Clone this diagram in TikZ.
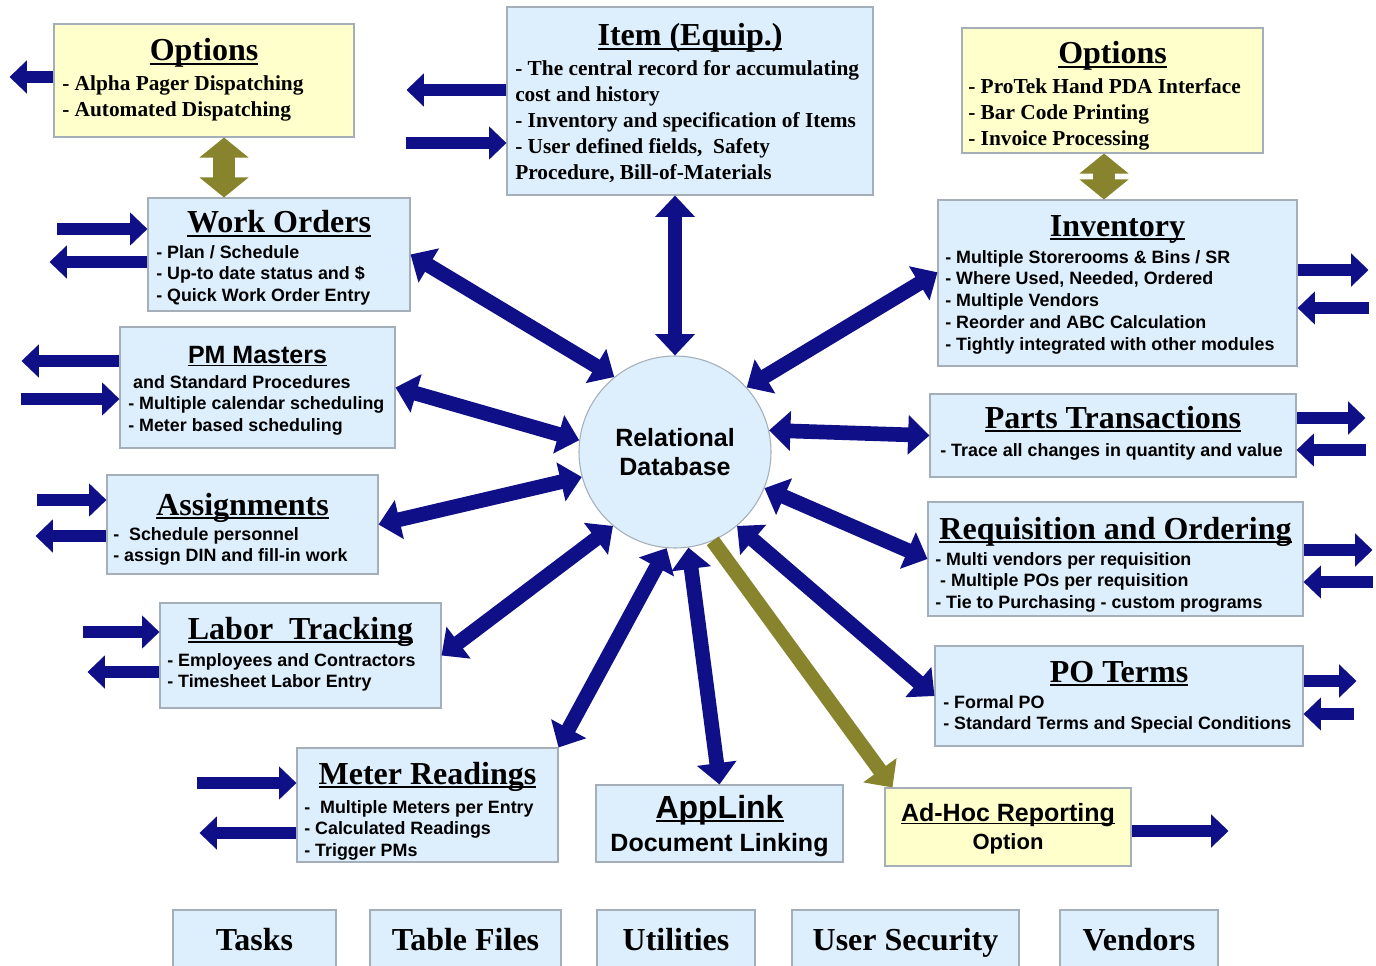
\documentclass[tikz,border=0pt]{standalone}
\usepackage{fontspec}
\setmainfont{Liberation Serif}
\setsansfont{Liberation Sans}
\usepackage{tikz}
\usetikzlibrary{arrows.meta,calc}

\definecolor{navyarr}{RGB}{15,15,135}
\definecolor{olivearr}{RGB}{135,132,45}
\definecolor{boxblue}{RGB}{221,239,252}
\definecolor{boxyel}{RGB}{255,255,204}
\definecolor{boxedge}{RGB}{165,175,185}

\newsavebox{\ulbox}
\newcommand{\ulin}[1]{\sbox\ulbox{#1}\rlap{\rule[-0.12em]{\wd\ulbox}{0.06em}}\usebox\ulbox}

\tikzset{
  modbox/.style={draw=boxedge, line width=0.8pt, fill=boxblue, inner sep=0pt},
  optbox/.style={modbox, fill=boxyel},
  sz/.style 2 args={minimum width=#1*0.75pt, minimum height=#2*0.75pt},
  lowbox/.style={modbox, minimum height=60pt, text height=12pt, text depth=12pt, font=\rmfamily\bfseries\fontsize{24}{28}\selectfont},
  ttl/.style={inner sep=0pt, anchor=base, font=\rmfamily\bfseries\fontsize{24}{28}\selectfont},
  sttl/.style={inner sep=0pt, anchor=base, font=\sffamily\bfseries\fontsize{18.75}{22}\selectfont},
  bdy/.style={inner sep=0pt, anchor=north west, align=left, font=\sffamily\bfseries\fontsize{13.4}{16.3}\selectfont},
  tbdy/.style={inner sep=0pt, anchor=north west, align=left, font=\rmfamily\bfseries\fontsize{16}{19.5}\selectfont},
  dbarr/.style={line width=11pt, navyarr, {Triangle[width=29pt,length=16pt]}-{Triangle[width=29pt,length=16pt]}},
  sidearr/.style={line width=9.5pt, navyarr, -{Triangle[width=24pt,length=13pt]}},
  olvbi/.style={line width=16pt, olivearr, {Triangle[width=36pt,length=15pt]}-{Triangle[width=36pt,length=15pt]}},
  olvarr/.style={line width=11pt, olivearr, -{Triangle[width=30pt,length=16pt]}},
}

\begin{document}
\begin{tikzpicture}[x=0.75pt,y=0.75pt,yscale=-1,xscale=1]
\useasboundingbox (0,0) rectangle (1376,966);
\fill[white] (0,0) rectangle (1376,966);
\clip (0,0) rectangle (1376,966);

%Shape: Circle [db]
\node[circle, draw=boxedge, line width=0.8pt, fill=boxblue, minimum size=192*0.75pt, inner sep=0pt, align=center, font=\sffamily\bfseries\fontsize{18.75}{21.75}\selectfont] (db) at (675,452) {Relational\\Database};

%Shape: Rectangles, left column
\node[optbox, sz={300}{113}] (optl) at (204,80.5) {};
\node[modbox, sz={262}{113}] (wo) at (279,254.5) {};
\node[modbox, sz={275}{121}] (pm) at (257.5,387.5) {};
\node[modbox, sz={271}{99}] (asg) at (242.5,524.5) {};
\node[modbox, sz={281}{105}] (lab) at (300.5,655.5) {};
\node[modbox, sz={261}{114}] (mtr) at (427.5,805) {};
%Shape: Rectangles, middle
\node[modbox, sz={366}{188}] (item) at (690,101) {};
\node[modbox, sz={247}{77}] (app) at (719.5,823.5) {};
\node[optbox, sz={246}{78}] (adh) at (1008,827) {};
%Shape: Rectangles, right column
\node[optbox, sz={301}{125}] (optr) at (1112.5,90.5) {};
\node[modbox, sz={359}{166}] (inv) at (1117.5,283) {};
\node[modbox, sz={366}{83}] (parts) at (1113,435.5) {};
\node[modbox, sz={375}{114}] (req) at (1115.5,559) {};
\node[modbox, sz={368}{100}] (po) at (1119,696) {};
%Shape: Rectangles, bottom row
\node[lowbox, sz={163}{80}] (tasks) at (254.5,950) {Tasks};
\node[lowbox, sz={191}{80}] (tblf) at (465.5,950) {Table Files};
\node[lowbox, sz={158}{80}] (utl) at (676,950) {Utilities};
\node[lowbox, sz={227}{80}] (usec) at (905.5,950) {User Security};
\node[lowbox, sz={158}{80}] (vnd) at (1139,950) {Vendors};

% Text Node
\node[ttl] (optl-t) at (optl.north |- 0,61) {\ulin{Options}};
\node[tbdy] (optl-b) at (62,75) {- Alpha Pager Dispatching\\- Automated Dispatching};
% Text Node
\node[ttl] (item-t) at (item.north |- 0,46) {\ulin{Item (Equip.)}};
\node[tbdy] (item-b) at (515,60) {- The central record for accumulating\\cost and history\\- Inventory and specification of Items\\- User defined fields,\ \ Safety\\Procedure, Bill-of-Materials};
% Text Node
\node[ttl] (optr-t) at (optr.north |- 0,64) {\ulin{Options}};
\node[tbdy] (optr-b) at (968,78) {- ProTek Hand PDA Interface\\- Bar Code Printing\\- Invoice Processing};
% Text Node
\node[ttl] (wo-t) at (wo.north |- 0,233) {\ulin{Work Orders}};
\node[bdy] (wo-b) at (156,245) {- Plan / Schedule\\- Up-to date status and \$\\- Quick Work Order Entry};
% Text Node
\node[ttl] (inv-t) at (inv.north |- 0,236) {\ulin{Inventory}};
\node[bdy] (inv-b) at (945,250) {- Multiple Storerooms \& Bins / SR\\- Where Used, Needed, Ordered\\- Multiple Vendors\\- Reorder and ABC Calculation\\- Tightly integrated with other modules};
% Text Node
\node[sttl] (pm-t) at (pm.north |- 0,363) {\ulin{PM Masters}};
\node[bdy] (pm-b) at (128,375) {\ and Standard Procedures\\- Multiple calendar scheduling\\- Meter based scheduling};
% Text Node
\node[ttl] (parts-t) at (parts.north |- 0,428) {\ulin{Parts Transactions}};
\node[bdy] (parts-b) at (940,443) {- Trace all changes in quantity and value};
% Text Node
\node[ttl] (asg-t) at (asg.north |- 0,515) {\ulin{Assignments}};
\node[bdy] (asg-b) at (113,527) {-\ \ Schedule personnel\\- assign DIN and fill-in work};
% Text Node
\node[ttl] (req-t) at (req.north |- 0,539) {\ulin{Requisition and Ordering}};
\node[bdy] (req-b) at (935,552) {- Multi vendors per requisition\\\ - Multiple POs per requisition\\- Tie to Purchasing - custom programs};
% Text Node
\node[ttl] (lab-t) at (lab.north |- 0,639) {\ulin{Labor\ \ Tracking}};
\node[bdy] (lab-b) at (167,653) {- Employees and Contractors\\- Timesheet Labor Entry};
% Text Node
\node[ttl] (po-t) at (po.north |- 0,682) {\ulin{PO Terms}};
\node[bdy] (po-b) at (943,695) {- Formal PO\\- Standard Terms and Special Conditions};
% Text Node
\node[ttl] (mtr-t) at (mtr.north |- 0,784) {\ulin{Meter Readings}};
\node[bdy] (mtr-b) at (304,800) {-\ \ Multiple Meters per Entry\\- Calculated Readings\\- Trigger PMs};
% Text Node
\node[inner sep=0pt, anchor=base, font=\sffamily\bfseries\fontsize{24}{28}\selectfont] (app-t) at (app.north |- 0,818) {\ulin{AppLink}};
\node[sttl] (app-b) at (app.north |- 0,851) {Document Linking};
% Text Node
\node[sttl] (adh-t) at (adh.north |- 0,821) {\ulin{Ad-Hoc Reporting}};
\node[sttl, font=\sffamily\bfseries\fontsize{16.5}{20}\selectfont] (adh-b) at (adh.north |- 0,849) {Option};

%Straight Lines: to and from the database
\draw[dbarr] (db.north |- item.south) -- (db.north);
\draw[dbarr] (wo.east) -- (db.129);
\draw[dbarr] (pm.east) -- (db.173);
\draw[dbarr] (asg.east) -- (db.195);
\draw[dbarr] (lab.east) -- (db.230);
\draw[dbarr] (mtr.north east) -- (db.265);
\draw[dbarr] (app.north) -- (db.278);
\draw[olvarr] (db.293) -- ([xshift=6pt]adh.north west);
\draw[dbarr] (db.310) -- (po.west);
\draw[dbarr] (db.338) -- (req.west);
\draw[dbarr] (db.13) -- (parts.west);
\draw[dbarr] (db.42) -- ([yshift=-8pt]inv.west);
%Straight Lines: options
\draw[olvbi] (optl.south -| 224,0) -- (wo.north -| 224,0);
\draw[olvbi] (optr.south -| 1104,0) -- (inv.north -| 1104,0);

%Straight Lines: left side in and out
\draw[sidearr] (optl.west |- 0,77) -- ++(-44,0);
\draw[sidearr] (item.west |- 0,90) -- ++(-100,0);
\draw[sidearr] ($(item.west |- 0,143)+(-100,0)$) -- (item.west |- 0,143);
\draw[sidearr] ($(wo.west |- 0,229)+(-90,0)$) -- (wo.west |- 0,229);
\draw[sidearr] (wo.west |- 0,262) -- ++(-98,0);
\draw[sidearr] (pm.west |- 0,361) -- ++(-98,0);
\draw[sidearr] ($(pm.west |- 0,399)+(-98,0)$) -- (pm.west |- 0,399);
\draw[sidearr] ($(asg.west |- 0,500)+(-69,0)$) -- (asg.west |- 0,500);
\draw[sidearr] (asg.west |- 0,536) -- ++(-71,0);
\draw[sidearr] ($(lab.west |- 0,632)+(-76,0)$) -- (lab.west |- 0,632);
\draw[sidearr] (lab.west |- 0,672) -- ++(-72,0);
\draw[sidearr] ($(mtr.west |- 0,783)+(-99,0)$) -- (mtr.west |- 0,783);
\draw[sidearr] (mtr.west |- 0,833) -- ++(-97,0);
%Straight Lines: right side in and out
\draw[sidearr] (inv.east |- 0,270) -- ++(71,0);
\draw[sidearr] ($(inv.east |- 0,308)+(71,0)$) -- (inv.east |- 0,308);
\draw[sidearr] (parts.east |- 0,418) -- ++(69,0);
\draw[sidearr] ($(parts.east |- 0,450)+(69,0)$) -- (parts.east |- 0,450);
\draw[sidearr] (req.east |- 0,550) -- ++(69,0);
\draw[sidearr] ($(req.east |- 0,582)+(69,0)$) -- (req.east |- 0,582);
\draw[sidearr] (po.east |- 0,681) -- ++(53,0);
\draw[sidearr] ($(po.east |- 0,714)+(50,0)$) -- (po.east |- 0,714);
\draw[sidearr] (adh.east |- 0,831) -- ++(97,0);

\end{tikzpicture}
\end{document}
